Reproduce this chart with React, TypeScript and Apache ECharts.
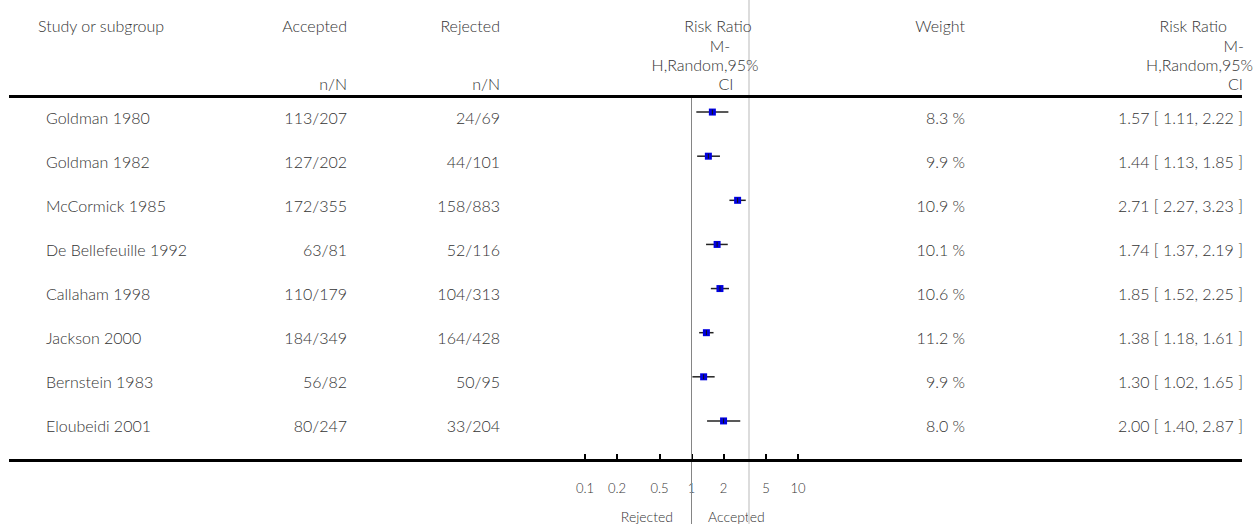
import React, { useEffect, useRef } from "react";
import * as echarts from "echarts";

const studies = [
  "Goldman 1980",
  "Goldman 1982",
  "McCormick 1985",
  "De Bellefeuille 1992",
  "Callaham 1998",
  "Jackson 2000",
  "Bernstein 1983",
  "Eloubeidi 2001",
];
const accepted = ["113/207", "127/202", "172/355", "63/81", "110/179", "184/349", "56/82", "80/247"];
const rejected = ["24/69", "44/101", "158/883", "52/116", "104/313", "164/428", "50/95", "33/204"];
const weights = [8.3, 9.9, 10.9, 10.1, 10.6, 11.2, 9.9, 8.0];
const rr = [1.57, 1.44, 2.71, 1.74, 1.85, 1.38, 1.3, 2.0];
const lower = [1.11, 1.13, 2.27, 1.37, 1.52, 1.18, 1.02, 1.4];
const upper = [2.22, 1.85, 3.23, 2.19, 2.25, 1.61, 1.65, 2.87];
const tickValues = [0.1, 0.2, 0.5, 1, 2, 5, 10];
const NULL_RR = 1;
const REF_RR = 3.5;

const FONT = 'Lato, "Gill Sans", "Open Sans", sans-serif';
const TEXT = "#333";
const FS = 16;
const FW = 300;

const fmt2 = (v: number) => v.toFixed(2);

export default function App() {
  const ref = useRef<HTMLDivElement>(null);
  useEffect(() => {
    if (!ref.current) return;
    const chart = echarts.init(ref.current, undefined, { renderer: "svg" });
    const L = 585;
    const R = 1256 - 798;
    const rowData = studies.map((s, i) => [
      Math.log10(rr[i]),
      i,
      Math.log10(lower[i]),
      Math.log10(upper[i]),
    ]);

    const hdr = (text: string, x: number, y: number, align: string) => ({
      type: "text",
      x,
      y,
      style: {
        text,
        align,
        verticalAlign: "middle",
        fill: TEXT,
        fontSize: FS,
        fontWeight: FW,
        fontFamily: FONT,
      },
      z: 10,
    });

    chart.setOption({
      animation: false,
      grid: [
        { left: L, right: R, top: 90, height: 353 },
        { left: L, right: R, top: 97, bottom: 64 },
        { left: L, right: R, top: 97, bottom: 0 },
        { left: L, right: R, top: 0, bottom: 0 },
      ],
      xAxis: [
        { gridIndex: 0, type: "value", min: -1, max: 1, show: false },
        {
          gridIndex: 1,
          type: "value",
          min: -1,
          max: 1,
          axisLine: { show: false },
          splitLine: { show: false },
          axisTick: {
            show: true,
            inside: true,
            length: 6,
            lineStyle: { color: "#000", width: 2 },
            customValues: tickValues.map((v) => Math.log10(v)),
          },
          axisLabel: {
            show: true,
            margin: 21,
            color: TEXT,
            fontSize: 13,
            fontWeight: FW,
            fontFamily: FONT,
            customValues: tickValues.map((v) => Math.log10(v)),
            formatter: (v: number) => {
              const x = Math.pow(10, v);
              return x < 1 ? x.toFixed(1) : String(Math.round(x));
            },
          },
        },
        { gridIndex: 2, type: "value", min: -1, max: 1, show: false },
        { gridIndex: 3, type: "value", min: -1, max: 1, show: false },
      ],
      yAxis: [
        {
          gridIndex: 0,
          type: "category",
          data: studies,
          inverse: true,
          show: false,
        },
        { gridIndex: 1, type: "value", min: 0, max: 1, show: false },
        { gridIndex: 2, type: "value", min: 0, max: 1, show: false },
        { gridIndex: 3, type: "value", min: 0, max: 1, show: false },
      ],
      series: [
        {
          type: "line",
          xAxisIndex: 3,
          yAxisIndex: 3,
          data: [],
          silent: true,
          markLine: {
            symbol: "none",
            silent: true,
            label: { show: false },
            lineStyle: { color: "#dcdcdc", width: 2, type: "solid" },
            data: [{ xAxis: Math.log10(REF_RR) }],
          },
        },
        {
          type: "line",
          xAxisIndex: 2,
          yAxisIndex: 2,
          data: [],
          silent: true,
          markLine: {
            symbol: "none",
            silent: true,
            label: { show: false },
            lineStyle: { color: "#858585", width: 1, type: "solid" },
            data: [{ xAxis: Math.log10(NULL_RR) }],
          },
        },
        {
          type: "custom",
          xAxisIndex: 0,
          yAxisIndex: 0,
          clip: false,
          data: rowData,
          encode: { x: [0, 2, 3], y: 1 },
          renderItem: (params: any, api: any) => {
            const i = api.value(1);
            const c = api.coord([api.value(0), i]);
            const lo = api.coord([api.value(2), i]);
            const hi = api.coord([api.value(3), i]);
            const s = 7;
            const ty = c[1] + 5;
            const txt = (text: string, x: number, align = "right") => ({
              type: "text",
              x,
              y: ty,
              style: {
                text,
                align,
                verticalAlign: "middle",
                fill: TEXT,
                fontSize: FS,
                fontWeight: FW,
                fontFamily: FONT,
              },
            });
            return {
              type: "group",
              children: [
                {
                  type: "line",
                  shape: { x1: lo[0], y1: c[1], x2: hi[0], y2: c[1] },
                  style: { stroke: "#222", lineWidth: 1.5 },
                },
                {
                  type: "rect",
                  shape: { x: c[0] - s / 2, y: c[1] - s / 2, width: s, height: s },
                  style: { fill: "#0000e0" },
                },
                {
                  type: "line",
                  shape: { x1: c[0], y1: c[1] - 2.5, x2: c[0], y2: c[1] + 2.5 },
                  style: { stroke: "#111", lineWidth: 1 },
                },
                txt(studies[i], 46, "left"),
                txt(accepted[i], 347),
                txt(rejected[i], 500),
                txt(weights[i].toFixed(1) + " %", 965),
                txt(
                  `${rr[i].toFixed(2)} [ ${fmt2(lower[i])}, ${fmt2(upper[i])} ]`,
                  1243
                ),
              ],
            };
          },
        },
      ],
      graphic: [
        {
          type: "line",
          shape: { x1: 9, y1: 96.5, x2: 1242, y2: 96.5 },
          style: { stroke: "#000", lineWidth: 3 },
          z: 20,
        },
        {
          type: "line",
          shape: { x1: 9, y1: 460.5, x2: 1242, y2: 460.5 },
          style: { stroke: "#000", lineWidth: 3 },
          z: 20,
        },
        hdr("Study or subgroup", 38, 25, "left"),
        hdr("Accepted", 347, 25, "right"),
        hdr("n/N", 347, 83, "right"),
        hdr("Rejected", 500, 25, "right"),
        hdr("n/N", 500, 83, "right"),
        hdr("Risk Ratio", 718, 25, "center"),
        hdr("M-", 720, 45, "center"),
        hdr("H,Random,95%", 705, 64, "center"),
        hdr("CI", 726, 83, "center"),
        hdr("Weight", 965, 25, "right"),
        hdr("Risk Ratio", 1227, 25, "right"),
        hdr("M-", 1244, 45, "right"),
        hdr("H,Random,95%", 1253, 64, "right"),
        hdr("CI", 1243, 83, "right"),
        {
          type: "text",
          x: 673,
          y: 516,
          style: { text: "Rejected", align: "right", verticalAlign: "middle", fill: TEXT, fontSize: 14, fontWeight: FW, fontFamily: FONT },
        },
        {
          type: "text",
          x: 708,
          y: 516,
          style: { text: "Accepted", align: "left", verticalAlign: "middle", fill: TEXT, fontSize: 14, fontWeight: FW, fontFamily: FONT },
        },
      ],
    });
    return () => chart.dispose();
  }, []);
  return (
    <div
      ref={ref}
      style={{ position: "absolute", left: 0, top: 0, width: 1256, height: 524 }}
    />
  );
}
